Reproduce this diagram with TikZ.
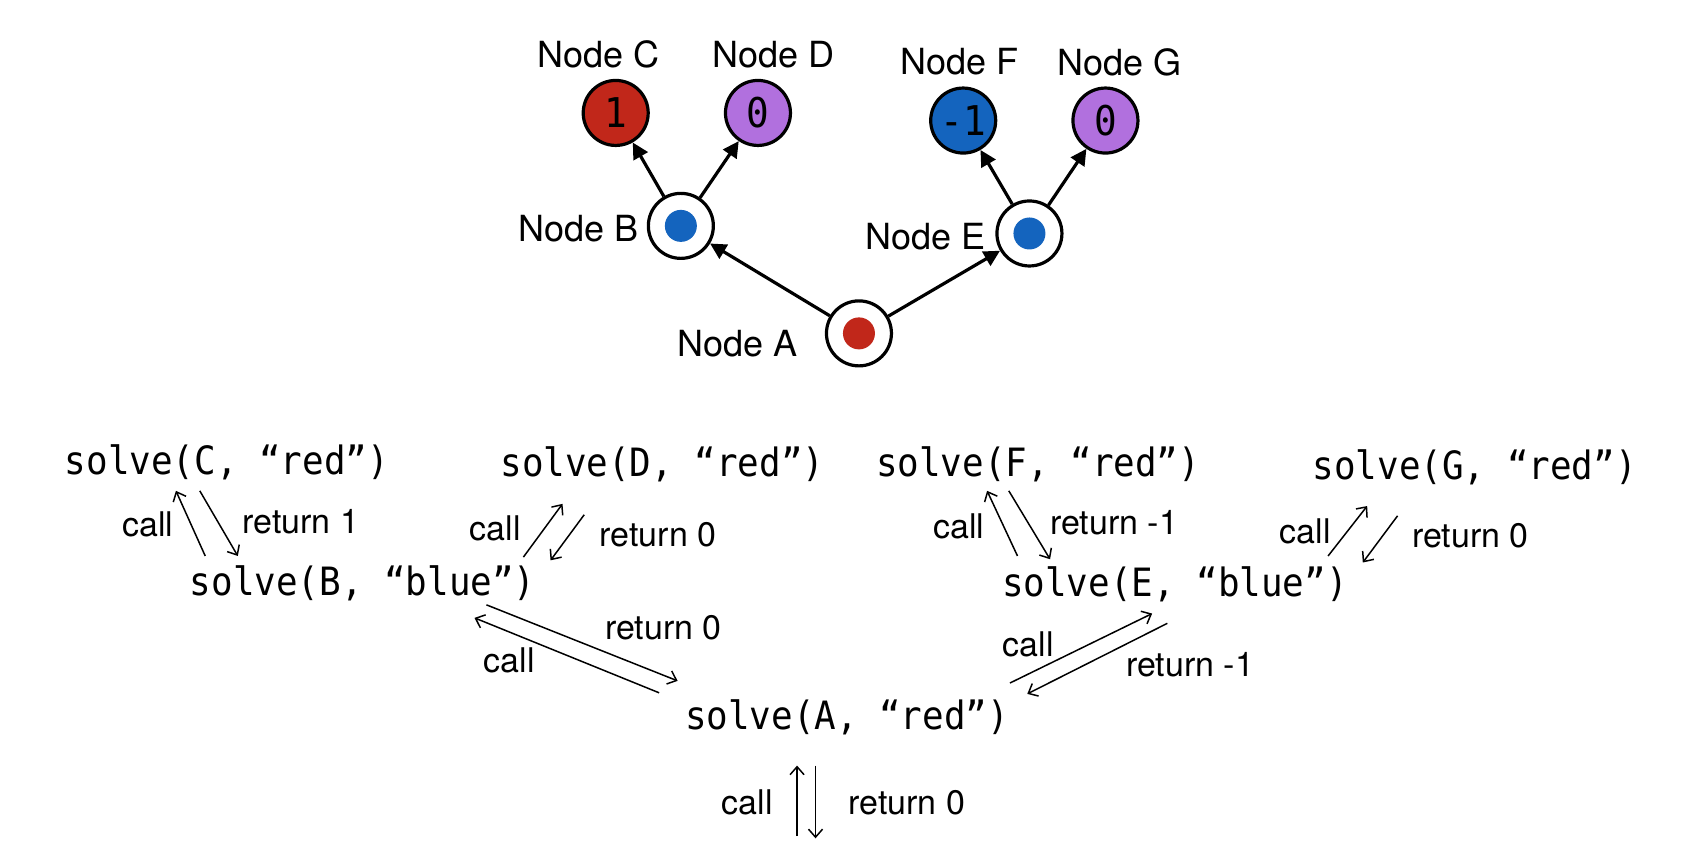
\documentclass[tikz,border=0pt]{standalone}
\usepackage{fontspec}
\setmainfont{TeX Gyre Heros}
\newfontfamily\codefont[FakeStretch=0.92]{DejaVu Sans Mono}
\usetikzlibrary{arrows.meta}
\definecolor{nodered}{RGB}{193,39,26}
\definecolor{nodeblue}{RGB}{20,100,190}
\definecolor{nodepurple}{RGB}{177,112,222}
\tikzset{
  leaf/.style={circle,draw,line width=1.6pt,minimum size=32.5pt,inner sep=0pt,fill=#1,
    font=\codefont\fontsize{20.5}{20}\selectfont},
  dotted/.style={circle,draw,fill=white,line width=1.6pt,minimum size=32.5pt,inner sep=0pt,
    path picture={\fill[#1] (path picture bounding box.center) circle (8pt);}},
  nodelabel/.style={font=\fontsize{18}{20}\selectfont,inner sep=0pt},
  tarrow/.style={line width=1.6pt,-{Triangle[length=8pt,width=8pt]}},
  code/.style={font=\codefont\fontsize{19.5}{22}\selectfont,inner sep=0pt},
  small/.style={font=\fontsize{17}{19}\selectfont,inner sep=0pt},
  carrow/.style={line width=0.75pt,-{Straight Barb[length=4pt,width=7pt]}}
}
\begin{document}
\begin{tikzpicture}[x=0.543pt,y=-0.543pt]
\useasboundingbox (0,0) rectangle (1560,790);
% the tree
\node[dotted=nodered] (A) at (791,307) {};
\node[dotted=nodeblue] (B) at (627,208) {};
\node[dotted=nodeblue] (E) at (948,215) {};
\node[leaf=nodered] (C) at (567,104) {1};
\node[leaf=nodepurple] (D) at (698,104) {0};
\node[leaf=nodeblue] (F) at (887,111) {-1};
\node[leaf=nodepurple] (G) at (1018,111) {0};
\node[nodelabel,anchor=east] (labA) at (735,316) {Node A};
\node[nodelabel,anchor=east] (labB) at (588,211) {Node B};
\node[nodelabel,anchor=east] (labE) at (908,218) {Node E};
\node[nodelabel] (labC) at (551,50) {Node C};
\node[nodelabel] (labD) at (712,50) {Node D};
\node[nodelabel] (labF) at (884,57) {Node F};
\node[nodelabel] (labG) at (1031,57) {Node G};
\draw[tarrow] (A) -- (B);
\draw[tarrow] (A) -- (E);
\draw[tarrow] (B) -- (C);
\draw[tarrow] (B) -- (D);
\draw[tarrow] (E) -- (F);
\draw[tarrow] (E) -- (G);
% the calls
\node[code] (sC) at (209,426) {solve(C, “red”)};
\node[code] (sD) at (610,428) {solve(D, “red”)};
\node[code] (sF) at (956,428) {solve(F, “red”)};
\node[code] (sG) at (1358,430) {solve(G, “red”)};
\node[code] (sB) at (334,537) {solve(B, “blue”)};
\node[code] (sE) at (1082,538) {solve(E, “blue”)};
\node[code] (sA) at (780,661) {solve(A, “red”)};
% B <-> C
\coordinate (bc1) at (189,512); \coordinate (bc2) at (162,452);
\coordinate (bc3) at (184,452); \coordinate (bc4) at (219,512);
\draw[carrow] (bc1) -- (bc2);
\draw[carrow] (bc3) -- (bc4);
\node[small] at (136,483) {call};
\node[small] at (277,480) {return 1};
% B <-> D
\coordinate (bd1) at (482,513); \coordinate (bd2) at (518,464);
\coordinate (bd3) at (538,474); \coordinate (bd4) at (507,516);
\draw[carrow] (bd1) -- (bd2);
\draw[carrow] (bd3) -- (bd4);
\node[small] at (456,487) {call};
\node[small] at (606,492) {return 0};
% E <-> F
\coordinate (ef1) at (937,512); \coordinate (ef2) at (909,452);
\coordinate (ef3) at (929,452); \coordinate (ef4) at (967,515);
\draw[carrow] (ef1) -- (ef2);
\draw[carrow] (ef3) -- (ef4);
\node[small] at (883,485) {call};
\node[small] at (1026,481) {return -1};
% E <-> G
\coordinate (eg1) at (1223,512); \coordinate (eg2) at (1259,466);
\coordinate (eg3) at (1287,475); \coordinate (eg4) at (1255,518);
\draw[carrow] (eg1) -- (eg2);
\draw[carrow] (eg3) -- (eg4);
\node[small] at (1202,489) {call};
\node[small] at (1354,493) {return 0};
% A <-> B
\coordinate (ab1) at (607,638); \coordinate (ab2) at (437,569);
\coordinate (ab3) at (448,557); \coordinate (ab4) at (624,627);
\draw[carrow] (ab1) -- (ab2);
\draw[carrow] (ab3) -- (ab4);
\node[small] at (469,608) {call};
\node[small] at (611,578) {return 0};
% A <-> E
\coordinate (ae1) at (930,629); \coordinate (ae2) at (1061,565);
\coordinate (ae3) at (1075,574); \coordinate (ae4) at (946,639);
\draw[carrow] (ae1) -- (ae2);
\draw[carrow] (ae3) -- (ae4);
\node[small] at (947,593) {call};
\node[small] at (1096,612) {return -1};
% A from outside
\coordinate (a1) at (734,770); \coordinate (a2) at (734,705);
\coordinate (a3) at (751,705); \coordinate (a4) at (751,772);
\draw[carrow] (a1) -- (a2);
\draw[carrow] (a3) -- (a4);
\node[small] at (688,739) {call};
\node[small] at (835,739) {return 0};
\end{tikzpicture}
\end{document}
